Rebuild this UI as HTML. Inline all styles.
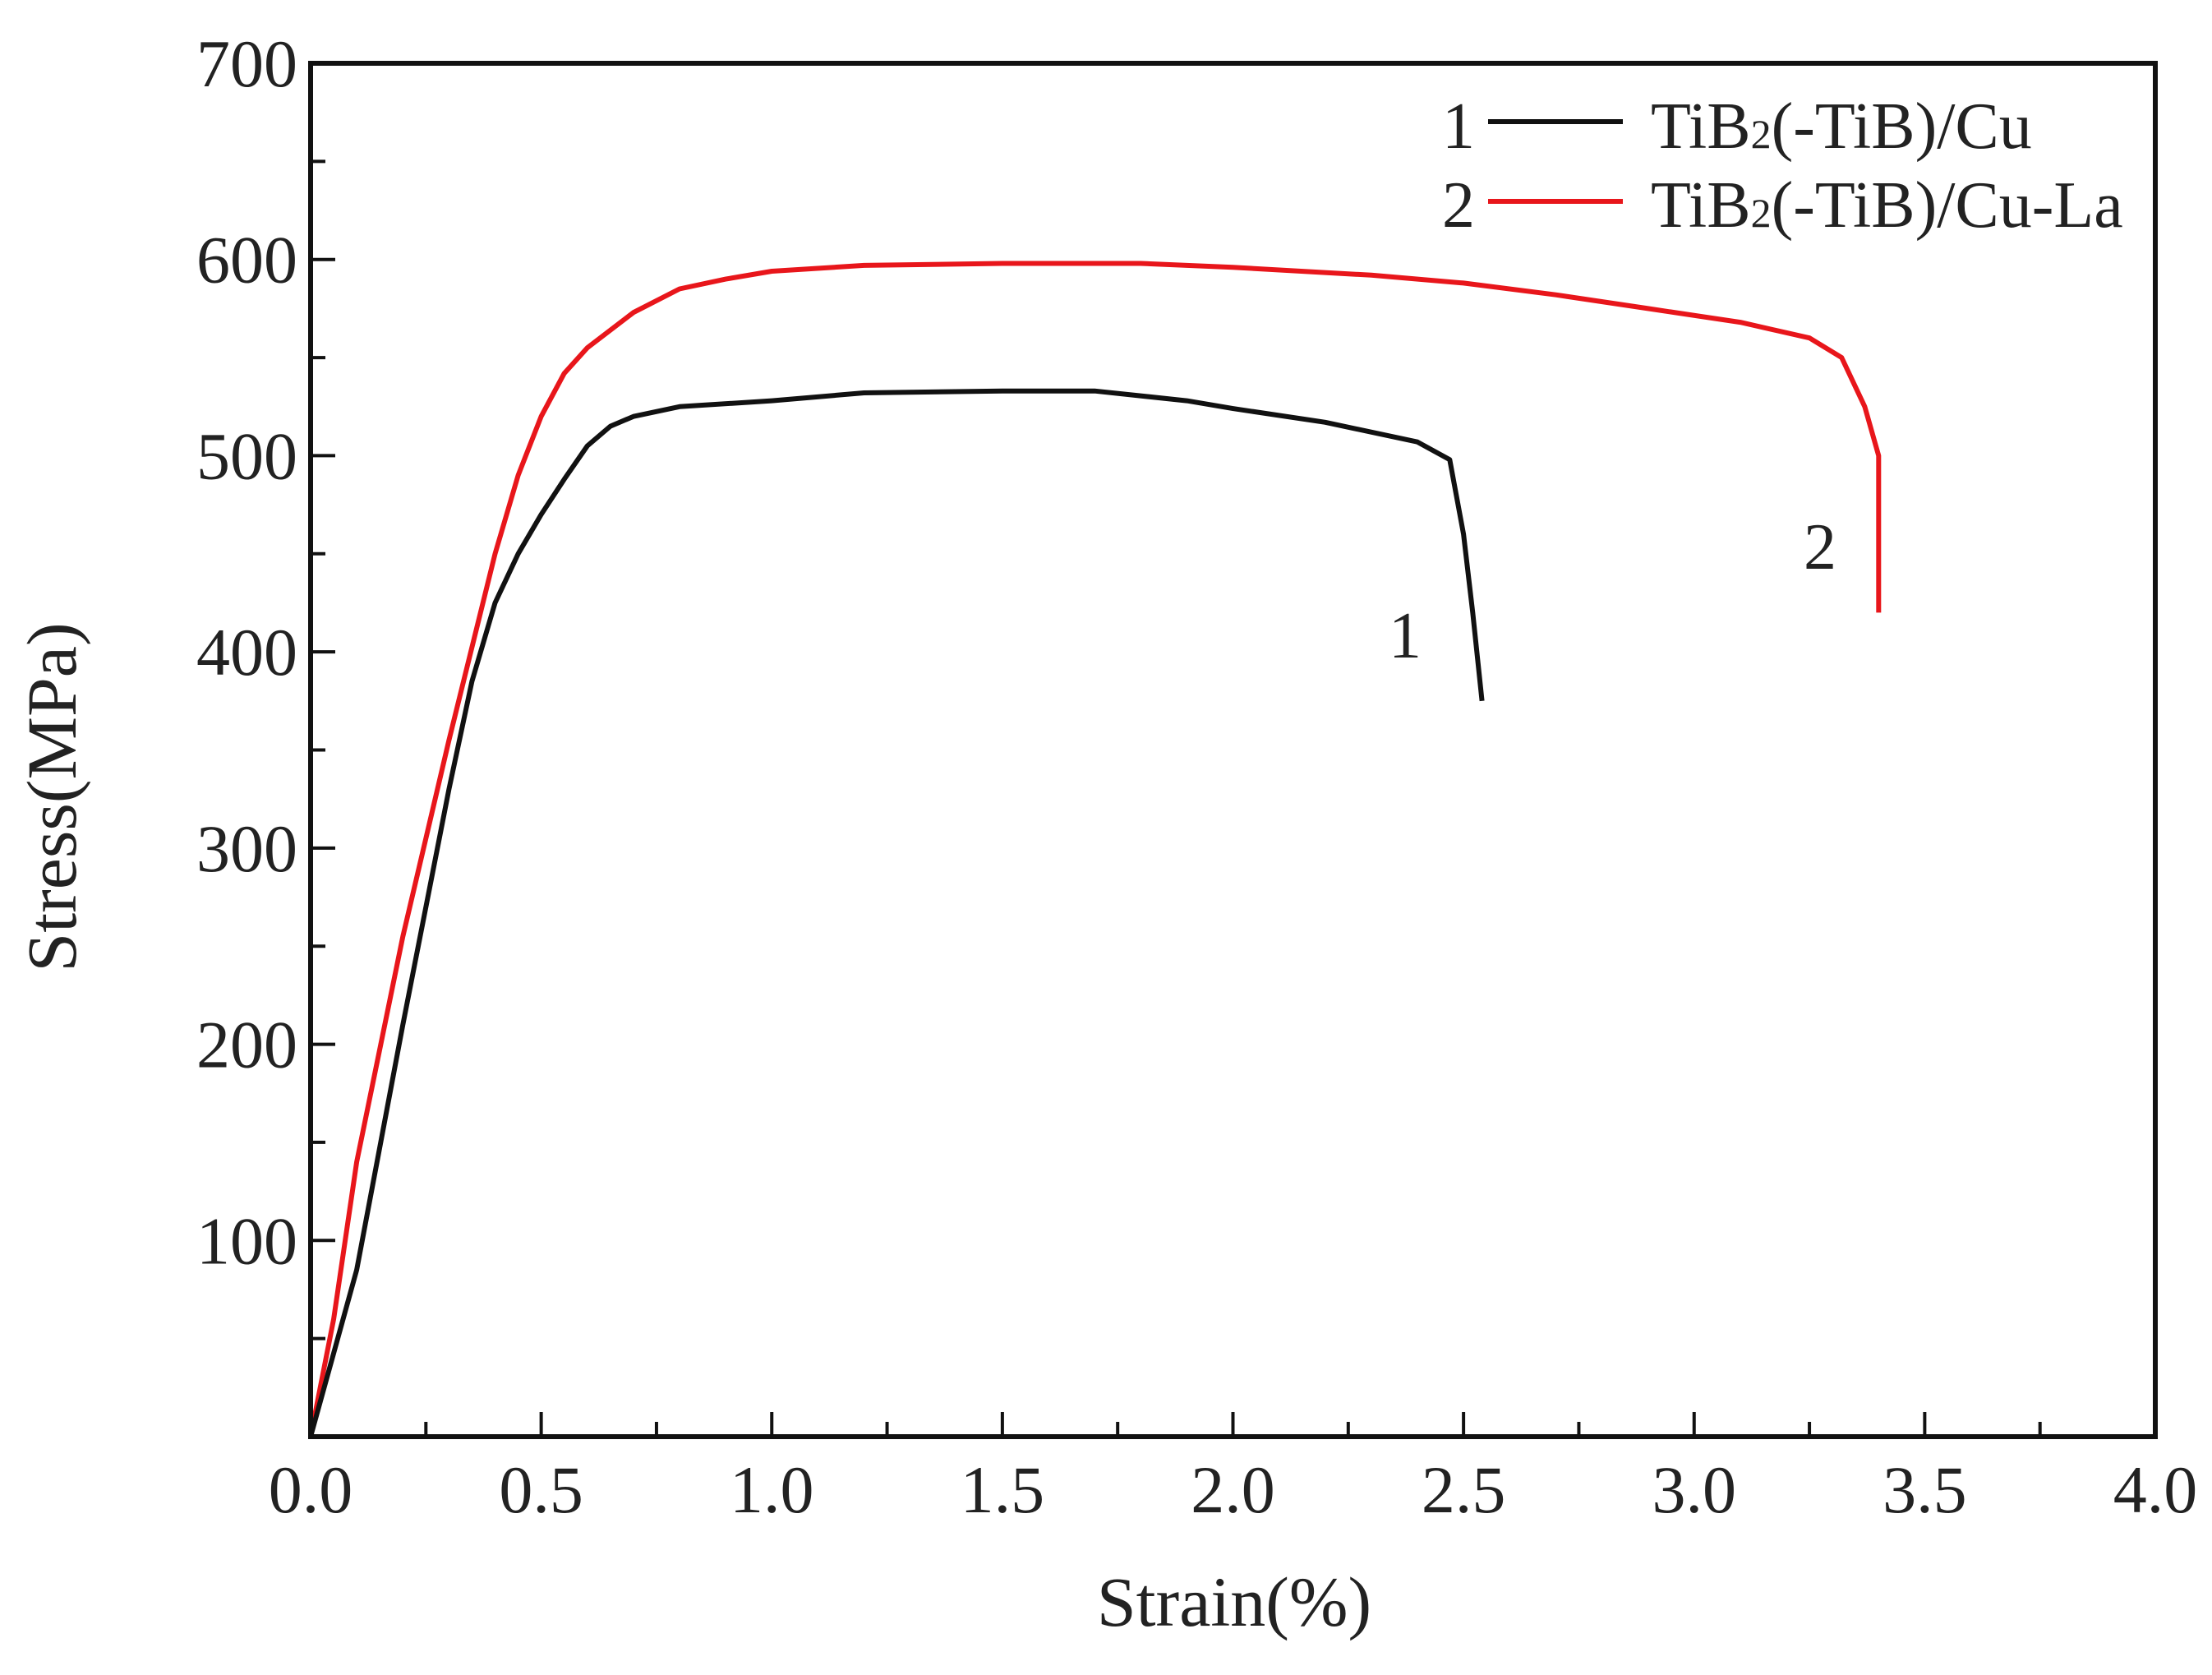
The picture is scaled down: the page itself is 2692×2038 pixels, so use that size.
<!DOCTYPE html>
<html><head><meta charset="utf-8"><style>
html,body{margin:0;padding:0;background:#fff;}
svg{display:block;font-family:"Liberation Serif",serif;}
</style></head><body>
<svg id="chart" width="2692" height="2038" viewBox="0 0 2692 2038">
<g id="axes"></g>
<g id="series"></g>
<rect x="378" y="77" width="2245" height="1671" fill="none" stroke="#111" stroke-width="6"/>
<text x="92" y="970" font-size="86" text-anchor="middle" transform="rotate(-90 92 970)" fill="#222">Stress(MPa)</text>
<text x="1502" y="1978" font-size="86" text-anchor="middle" fill="#222">Strain(%)</text>
<text x="1710" y="800" font-size="80" text-anchor="middle" fill="#222">1</text>
<text x="2215" y="692" font-size="80" text-anchor="middle" fill="#222">2</text>
<g>
<text x="1775" y="180" font-size="80" text-anchor="middle" fill="#222">1</text>
<line x1="1811" y1="148" x2="1975" y2="148" stroke="#111" stroke-width="6"/>
<text x="2009" y="180" font-size="80" fill="#222">TiB<tspan font-size="50">2</tspan>(-TiB)/Cu</text>
<text x="1775" y="276" font-size="80" text-anchor="middle" fill="#222">2</text>
<line x1="1811" y1="245" x2="1975" y2="245" stroke="#e8161b" stroke-width="6"/>
<text x="2009" y="276" font-size="80" fill="#222">TiB<tspan font-size="50">2</tspan>(-TiB)/Cu-La</text>
</g>
</svg>
<script>
const xTicks=[0,0.5,1.0,1.5,2.0,2.5,3.0,3.5,4.0];
const xTickLabels=["0.0","0.5","1.0","1.5","2.0","2.5","3.0","3.5","4.0"];
const yTicks=[100,200,300,400,500,600,700];
const yTickLabels=["100","200","300","400","500","600","700"];
const cuStrain=[0,0.1,0.2,0.3,0.35,0.4,0.45,0.5,0.55,0.6,0.65,0.7,0.8,1.0,1.2,1.5,1.7,1.9,2.0,2.2,2.4,2.47,2.5,2.52,2.54];
const cuStress=[0,85,210,330,385,425,450,470,488,505,515,520,525,528,532,533,533,528,524,517,507,498,460,420,375];
const laStrain=[0,0.05,0.1,0.2,0.3,0.4,0.45,0.5,0.55,0.6,0.7,0.8,0.9,1.0,1.2,1.5,1.8,2.0,2.3,2.5,2.7,2.9,3.1,3.25,3.32,3.37,3.4,3.4];
const laStress=[0,60,140,255,355,450,490,520,542,555,573,585,590,594,597,598,598,596,592,588,582,575,568,560,550,525,500,420];
const X0=378,X1=2623,Y0=1748,Y1=77;
const sx=v=>X0+v/4*(X1-X0);
const sy=v=>Y0-v/700*(Y0-Y1);
const NS="http://www.w3.org/2000/svg";
const axes=document.getElementById('axes');
function mk(t,a,p){const e=document.createElementNS(NS,t);for(const k in a)e.setAttribute(k,a[k]);p.appendChild(e);return e;}
for(let v=0.25;v<4;v+=0.25){
 const major=Math.abs(v*2-Math.round(v*2))<1e-6;
 const l=mk('line',{x1:sx(v),x2:sx(v),y1:Y0,y2:Y0-(major?30:18),stroke:'#111','stroke-width':4},axes);
 
 
}
for(let v=50;v<700;v+=50){
 const major=v%100===0;
 const l=mk('line',{x1:X0,x2:X0+(major?30:18),y1:sy(v),y2:sy(v),stroke:'#111','stroke-width':4},axes);
 
 
}
xTicks.forEach((v,i)=>{
 const t=mk('text',{x:sx(v),y:1840,'font-size':82,'text-anchor':'middle',fill:'#222'},axes);
 t.textContent=xTickLabels[i];
 
 
});
yTicks.forEach((v,i)=>{
 const t=mk('text',{x:362,y:sy(v)+28,'font-size':82,'text-anchor':'end',fill:'#222'},axes);
 t.textContent=yTickLabels[i];
 
 
});
const series=document.getElementById('series');
function line(xs,ys,color,name){
 const d=xs.map((x,i)=>(i?'L':'M')+sx(x).toFixed(1)+' '+sy(ys[i]).toFixed(1)).join(' ');
 const p=mk('path',{d:d,fill:'none',stroke:color,'stroke-width':6,'stroke-linejoin':'round'},series);
 
 
}
line(laStrain,laStress,'#e8161b','curve-tib2-cu-la');
line(cuStrain,cuStress,'#111','curve-tib2-cu');
</script>
</body></html>
